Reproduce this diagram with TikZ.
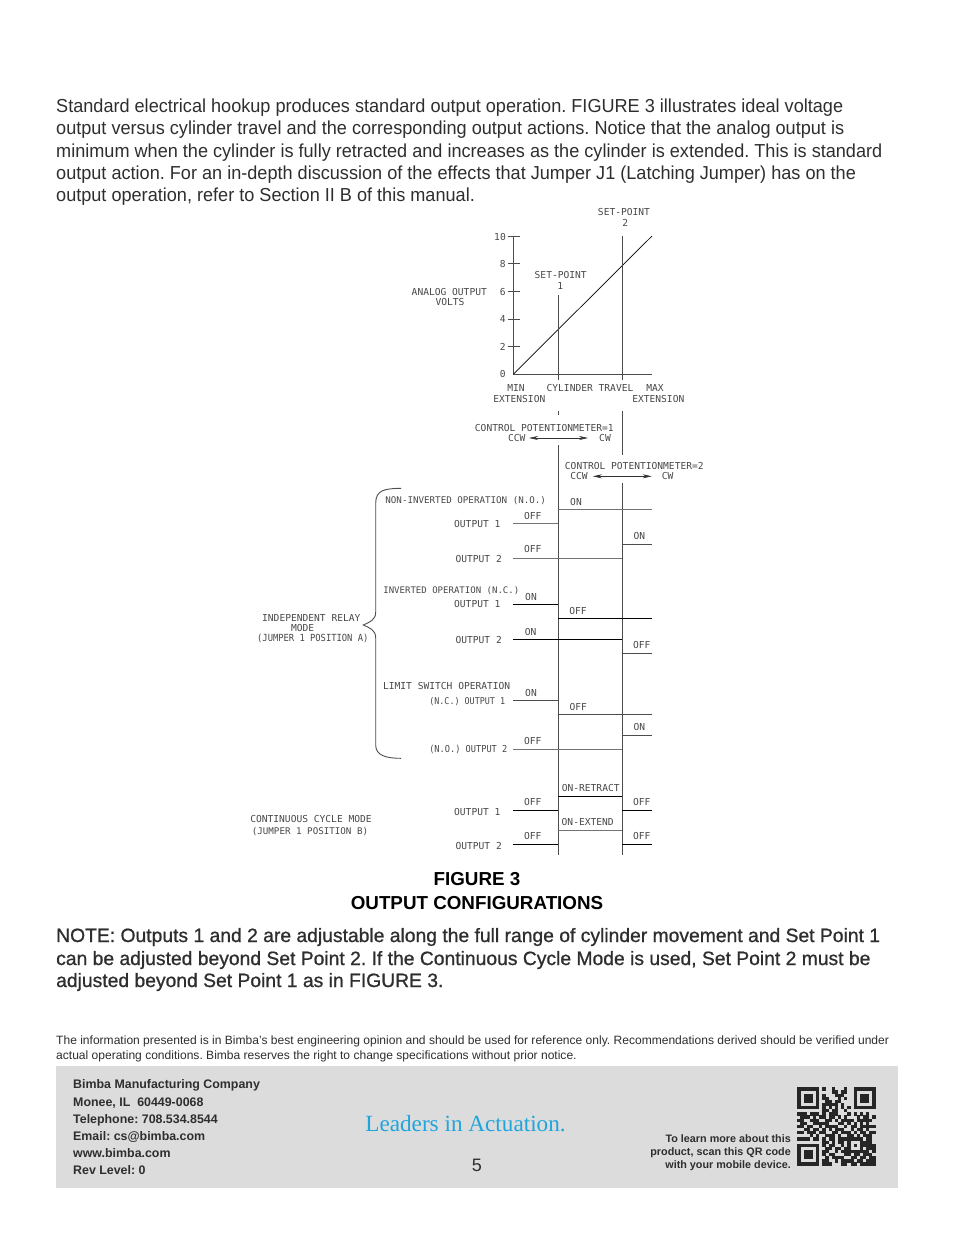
\documentclass[tikz,border=0pt]{standalone}
\usepackage{fontspec}
\usepackage{tikz}
\usetikzlibrary{arrows.meta}
\setmainfont{Liberation Sans}
\newfontfamily\bodyfont[FakeStretch=0.963]{Liberation Sans}
\newfontfamily\notefont[FakeBold=0.9,FakeStretch=1.0]{Liberation Sans}
\newfontfamily\cadfont{DejaVu Sans Mono}
\newfontfamily\cadtightfont[FakeStretch=0.9]{DejaVu Sans Mono}
\newfontfamily\leadfont{Liberation Serif}
\definecolor{inkgrey}{HTML}{2E2E2E}
\definecolor{footgrey}{HTML}{DCDCDC}
\definecolor{leadblue}{HTML}{1FA5DE}
\frenchspacing
\tikzset{
  bodytext/.style={anchor=base west,inner sep=0pt,text=inkgrey,font=\fontsize{18.8}{22}\selectfont\bodyfont},
  notetext/.style={anchor=base west,inner sep=0pt,text=inkgrey,font=\fontsize{19.3}{22}\selectfont\notefont},
  headtext/.style={anchor=base,inner sep=0pt,text=black,font=\fontsize{18.8}{22}\selectfont\bfseries},
  finetext/.style={anchor=base west,inner sep=0pt,text=inkgrey,font=\fontsize{12.05}{15}\selectfont},
  foottext/.style={anchor=base west,inner sep=0pt,text=inkgrey,font=\fontsize{12.4}{15}\selectfont\bfseries},
  qrtext/.style={anchor=base east,inner sep=0pt,text=inkgrey,font=\fontsize{10.8}{14}\selectfont\bfseries},
  cadtext/.style={inner sep=0pt,text=black!72,text height=7pt,text depth=0pt,font=\fontsize{9.6}{11}\selectfont\cadfont},
  cadsized/.style={font=\fontsize{#1}{11}\selectfont\cadfont},
  cadtight/.style={font=\fontsize{#1}{11}\selectfont\cadtightfont},
  chartline/.style={draw=black,line width=0.7pt},
  paleline/.style={draw=black!55,line width=0.9pt},
  setline/.style={draw=black!70,line width=0.7pt},
  potarrow/.style={draw=black!80,line width=0.6pt,{Stealth[length=9pt,width=4pt]}-{Stealth[length=9pt,width=4pt]}},
}
\newcount\qrcol
\def\qrstop{\qrstop}
\def\qrbits#1{\ifx#1\qrstop\else\ifnum#1=1 \path[fill=black!85] (797.3+3.13*\the\qrcol,1087.3+3.13*\qrrow) rectangle ++(3.2,3.2);\fi\advance\qrcol by 1 \expandafter\qrbits\fi}
\begin{document}
\begin{tikzpicture}[x=1pt,y=-1pt]
\useasboundingbox (0,0) rectangle (954,1235);
% page text at the top:
\node[bodytext] (para1) at (56,112) {Standard electrical hookup produces standard output operation. FIGURE 3 illustrates ideal voltage};
\node[bodytext] (para2) at (56,134) {output versus cylinder travel and the corresponding output actions. Notice that the analog output is};
\node[bodytext] (para3) at (56,157) {minimum when the cylinder is fully retracted and increases as the cylinder is extended. This is standard};
\node[bodytext] (para4) at (56,179) {output action. For an in-depth discussion of the effects that Jumper J1 (Latching Jumper) has on the};
\node[bodytext] (para5) at (56,201) {output operation, refer to Section II B of this manual.};
% voltage graph:
\path[setline] (513.5,236) -- (513.5,374) -- (652,374);
\path[chartline] (513.5,374) -- (652,236);
\path[setline] (507.5,236) -- (519.5,236);
\path[setline] (507.5,263.7) -- (519.5,263.7);
\path[setline] (507.5,291.4) -- (519.5,291.4);
\path[setline] (507.5,319) -- (519.5,319);
\path[setline] (507.5,346.7) -- (519.5,346.7);
\path[setline] (558.3,295) -- (558.3,380);
\path[setline] (622,236) -- (622,380);
\path[setline] (558.3,411) -- (558.3,415);
\path[setline] (622,411) -- (622,454.7);
\path[setline] (558.3,445) -- (558.3,855);
\path[setline] (622,483) -- (622,855);
\node[cadtext] (sp2a) at (624,211.7) {SET-POINT};
\node[cadtext] (sp2b) at (625.3,222.7) {2};
\node[cadtext] (sp1a) at (560.7,275) {SET-POINT};
\node[cadtext] (sp1b) at (560.3,286) {1};
\node[cadtext] (tick10) at (500,236.7) {10};
\node[cadtext] (tick8) at (502.7,264) {8};
\node[cadtext] (tick6) at (502.7,291.7) {6};
\node[cadtext] (tick4) at (502.7,319.3) {4};
\node[cadtext] (tick2) at (502.7,346.7) {2};
\node[cadtext] (tick0) at (502.7,374) {0};
\node[cadtext] (analog) at (449.3,292) {ANALOG OUTPUT};
\node[cadtext] (volts) at (450,301.7) {VOLTS};
\node[cadtext] (minlab) at (516,388.3) {MIN};
\node[cadtext] (minext) at (519.3,398.7) {EXTENSION};
\node[cadtext] (travel) at (590,388.3) {CYLINDER TRAVEL};
\node[cadtext] (maxlab) at (655,388.3) {MAX};
\node[cadtext] (maxext) at (658.3,398.7) {EXTENSION};
% potentiometers:
\node[cadtext] (pot1) at (544.3,427.7) {CONTROL POTENTIONMETER=1};
\node[cadtext] (ccw1) at (516.7,438) {CCW};
\node[cadtext] (cw1) at (605,438) {CW};
\path[potarrow,shorten <=3.5pt,shorten >=11pt] (ccw1) -- (cw1);
\node[cadtext] (pot2) at (634.3,466) {CONTROL POTENTIONMETER=2};
\node[cadtext] (ccw2) at (579,476.3) {CCW};
\node[cadtext] (cw2) at (667.7,476.3) {CW};
\path[potarrow,shorten <=5pt,shorten >=10pt] (ccw2) -- (cw2);
% relay brace:
\path[setline,line width=0.9pt] (401,488.3) .. controls (385,488.5) and (375.7,490) .. (375.7,503) -- (375.7,612) .. controls (375.7,620) and (370,622) .. (363.3,625) .. controls (370,628) and (375.7,630) .. (375.7,638) -- (375.7,745) .. controls (375.7,755) and (385,758.3) .. (401,758.3);
\node[cadtext] (relay1) at (311.3,617.7) {INDEPENDENT RELAY};
\node[cadtext] (relay2) at (302.7,627.7) {MODE};
\node[cadtext,cadtight=9.78] (relay3) at (312.8,638) {(JUMPER 1 POSITION A)};
% non-inverted:
\node[cadtext,cadsized=9.2] (noninv) at (465.7,500) {NON-INVERTED OPERATION (N.O.)};
\path[paleline] (558.3,509.7) -- (652,509.7);
\path[paleline] (513.3,523.7) -- (558.3,523.7);
\path[setline] (622,544.3) -- (652,544.3);
\path[paleline] (513.3,558.7) -- (622,558.7);
\node[cadtext] (ni1on) at (576,501.7) {ON};
\node[cadtext] (ni1off) at (532.7,516) {OFF};
\node[cadtext] (ni1) at (477.3,524.3) {OUTPUT 1};
\node[cadtext] (ni2on) at (639.3,536) {ON};
\node[cadtext] (ni2off) at (532.7,549.3) {OFF};
\node[cadtext] (ni2) at (478.7,559) {OUTPUT 2};
% inverted:
\node[cadtext,cadsized=9.03] (inv) at (451.3,590.3) {INVERTED OPERATION (N.C.)};
\path[chartline] (513.3,604.3) -- (558.3,604.3);
\path[chartline] (558.3,618.3) -- (652,618.3);
\path[chartline] (513.3,639.3) -- (622,639.3);
\path[setline] (622,653.3) -- (652,653.3);
\node[cadtext] (in1on) at (531,597.3) {ON};
\node[cadtext] (in1) at (477.3,604.3) {OUTPUT 1};
\node[cadtext] (in1off) at (578,611) {OFF};
\node[cadtext] (in2on) at (530.7,632) {ON};
\node[cadtext] (in2) at (478.7,640) {OUTPUT 2};
\node[cadtext] (in2off) at (641.7,645) {OFF};
% limit switch:
\node[cadtext] (limit) at (446.7,685.7) {LIMIT SWITCH OPERATION};
\path[setline] (513.3,700.3) -- (558.3,700.3);
\path[setline] (558.3,714.3) -- (652,714.3);
\path[setline] (622,735.3) -- (652,735.3);
\path[paleline] (513.3,749) -- (622,749);
\node[cadtext] (li1on) at (531,692.7) {ON};
\node[cadtext,cadtight=9.33] (li1) at (467.2,700.7) {(N.C.) OUTPUT 1};
\node[cadtext] (li1off) at (578.3,706.7) {OFF};
\node[cadtext] (li2on) at (639.3,726.7) {ON};
\node[cadtext] (li2off) at (532.7,740.7) {OFF};
\node[cadtext,cadtight=9.6] (li2) at (468.3,749) {(N.O.) OUTPUT 2};
% continuous cycle:
\path[chartline] (558.3,796.3) -- (622,796.3);
\path[chartline] (513.3,810.3) -- (558.3,810.3);
\path[chartline] (622,810.3) -- (652,810.3);
\path[paleline] (558.3,830.7) -- (622,830.7);
\path[chartline] (513.3,844.3) -- (558.3,844.3);
\path[chartline] (622,844.3) -- (652,844.3);
\node[cadtext] (cc1) at (590.7,788) {ON-RETRACT};
\node[cadtext] (cc2) at (532.7,802) {OFF};
\node[cadtext] (cc3) at (641.7,802) {OFF};
\node[cadtext] (cc4) at (477.3,811.7) {OUTPUT 1};
\node[cadtext] (cc5) at (587.7,822.3) {ON-EXTEND};
\node[cadtext] (cc6) at (532.7,836) {OFF};
\node[cadtext] (cc7) at (641.7,836) {OFF};
\node[cadtext] (cc8) at (478.7,846) {OUTPUT 2};
\node[cadtext] (ccmode) at (311,819.3) {CONTINUOUS CYCLE MODE};
\node[cadtext,cadsized=9.2] (ccjump) at (310,831.3) {(JUMPER 1 POSITION B)};
% caption and note:
\node[headtext] (fig1) at (477,885) {FIGURE 3};
\node[headtext] (fig2) at (477,909) {OUTPUT CONFIGURATIONS};
\node[notetext] (note1) at (56,942) {NOTE: Outputs 1 and 2 are adjustable along the full range of cylinder movement and Set Point 1};
\node[notetext] (note2) at (56,965) {can be adjusted beyond Set Point 2. If the Continuous Cycle Mode is used, Set Point 2 must be};
\node[notetext] (note3) at (56,987) {adjusted beyond Set Point 1 as in FIGURE 3.};
\node[finetext] (fine1) at (56,1044) {The information presented is in Bimba's best engineering opinion and should be used for reference only. Recommendations derived should be verified under};
\node[finetext] (fine2) at (56,1059) {actual operating conditions. Bimba reserves the right to change specifications without prior notice.};
% footer:
\path[fill=footgrey] (56,1066) rectangle (898,1188);
\node[foottext] (addr1) at (73,1088) {Bimba Manufacturing Company};
\node[foottext] (addr2) at (73,1106) {Monee, IL\ \ 60449-0068};
\node[foottext] (addr3) at (73,1123) {Telephone: 708.534.8544};
\node[foottext] (addr4) at (73,1140) {Email: cs@bimba.com};
\node[foottext] (addr5) at (73,1157) {www.bimba.com};
\node[foottext] (addr6) at (73,1174) {Rev Level: 0};
\node[anchor=base,inner sep=0pt,text=leadblue,font=\fontsize{23.2}{28}\selectfont\leadfont] (leaders) at (465.5,1131.5) {Leaders in Actuation.};
\node[anchor=base,inner sep=0pt,text=inkgrey,font=\fontsize{18}{20}\selectfont] (pagenum) at (477,1171) {5};
\node[qrtext] (scan1) at (791,1142) {To learn more about this};
\node[qrtext] (scan2) at (791,1155) {product, scan this QR code};
\node[qrtext] (scan3) at (791,1168) {with your mobile device.};
% qr code:
\foreach \qrline [count=\qrrow from 0] in {
1111111010010001001111111,1000001000011011001000001,1011101010001110001011101,
1011101011000101001011101,1011101001101100001011101,1000001011111010001000001,
1111111010101010101111111,0000000011011001000000000,1110111010111000101010100,
0111010110110101000101101,1100111001101011110111110,0110011111000110101010100,
1101100101111001011011111,0011011010101110010110100,1101110110011011101011011,
0000101001110100110101110,1111011010110111111110110,0000000011010110100011110,
1111111010110010101011111,1000001001101101100010111,1011101011001011111111101,
1011101010110001101101110,1011101001011110011011011,1000001011001011110110111,
1111111011100011011011111}
{\qrcol=0 \expandafter\qrbits\qrline\qrstop}
\end{tikzpicture}
\end{document}
